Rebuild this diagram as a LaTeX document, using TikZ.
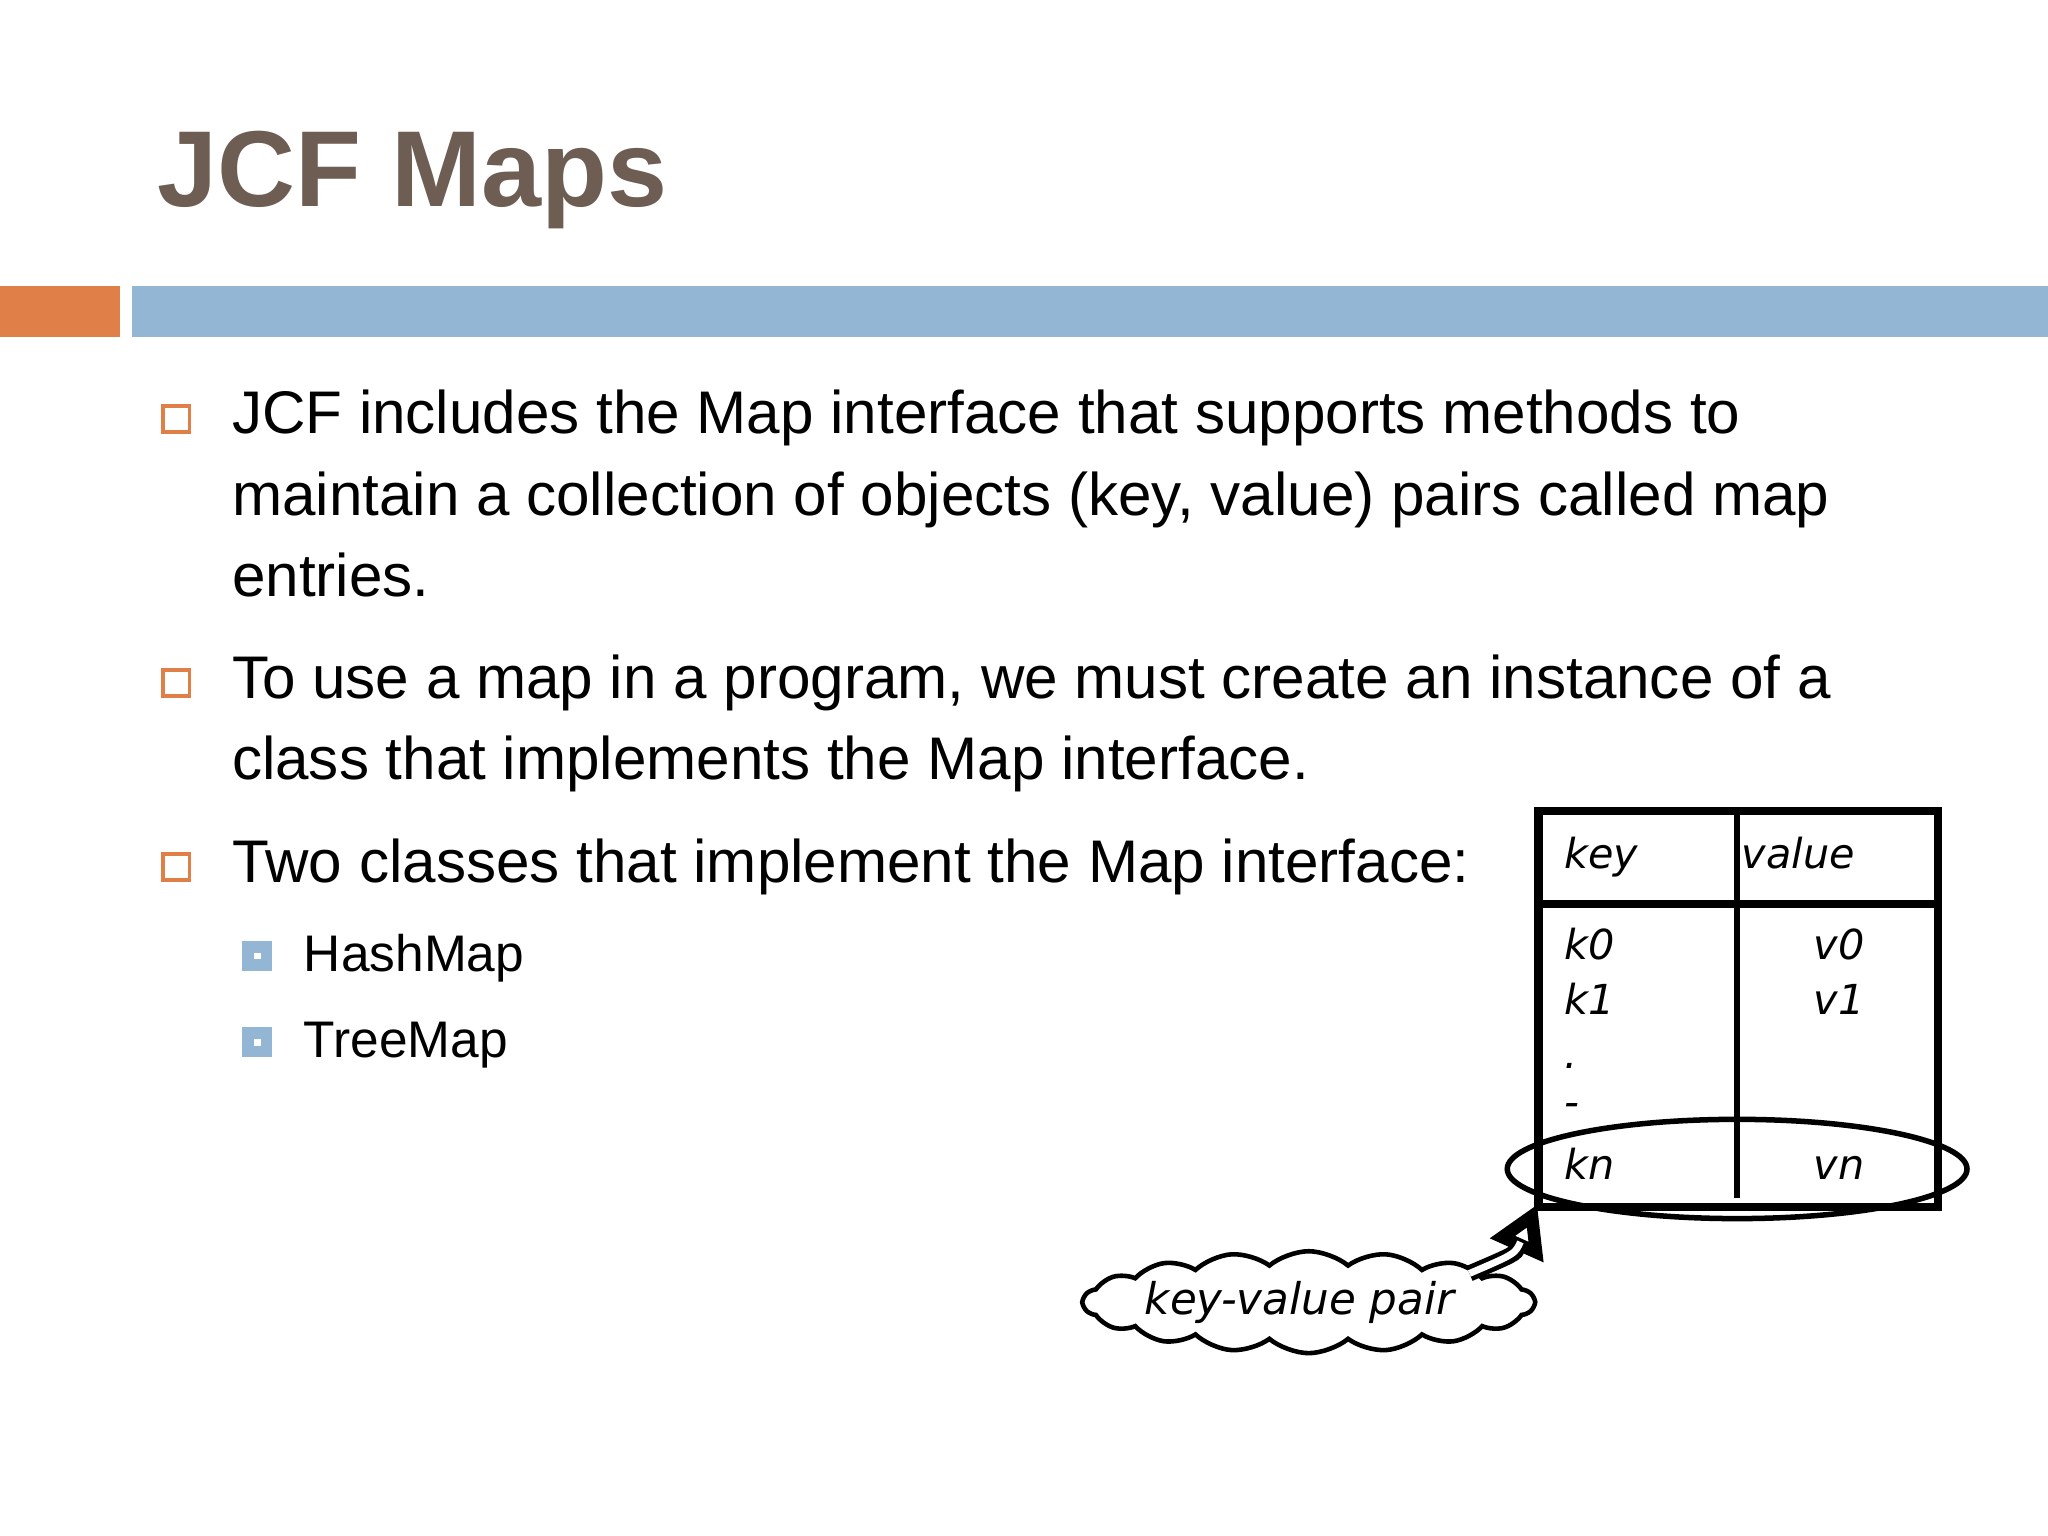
\documentclass[tikz,border=0pt]{standalone}
\usepackage{fontspec}
\setmainfont{Liberation Sans}
\newfontfamily\hand{DejaVu Sans}
\usetikzlibrary{shapes.symbols,arrows.meta}
\definecolor{titlec}{HTML}{6E5D52}
\definecolor{orangec}{HTML}{E07F48}
\definecolor{bluec}{HTML}{93B6D4}
\tikzset{
 body/.style={anchor=base west,inner sep=0,font=\fontsize{13.1}{16}\selectfont,text=black},
 obul/.style={draw=orangec,line width=0.8pt,minimum size=0.2cm,inner sep=0},
 bbul/.style={draw=bluec,line width=2.5pt,minimum size=0.14cm,inner sep=0},
 hw/.style={anchor=base west,inner sep=0,font=\hand\itshape\fontsize{9}{11}\selectfont}
}
\begin{document}
\begin{tikzpicture}[x=0.01cm,y=-0.01cm]
\useasboundingbox (0,0) rectangle (1568,1176);
\node[anchor=base west,inner sep=0,text=titlec,font=\bfseries\fontsize{23.5}{28}\selectfont] (title) at (120,158) {JCF Maps};
\fill[orangec] (0,219) rectangle (92,258);
\fill[bluec] (101,219) rectangle (1568,258);
\node[obul] (b1) at (135,321) {};
\node[body] (t1) at (177,332) {JCF includes the Map interface that supports methods to};
\node[body] (t2) at (177,395) {maintain a collection of objects (key, value) pairs called map};
\node[body] (t3) at (177,457) {entries.};
\node[obul] (b2) at (135,523) {};
\node[body] (t4) at (177,535) {To use a map in a program, we must create an instance of a};
\node[body] (t5) at (177,597) {class that implements the Map interface.};
\node[obul] (b3) at (135,664) {};
\node[body] (t6) at (177,676) {Two classes that implement the Map interface:};
\node[bbul] (s1) at (197,732) {};
\node[body,font=\fontsize{11.2}{14}\selectfont] (t7) at (232,744) {HashMap};
\node[bbul] (s2) at (197,798) {};
\node[body,font=\fontsize{11.2}{14}\selectfont] (t8) at (232,810) {TreeMap};
% table
\draw[line width=1.8pt] (1178,621) rectangle (1484,924);
\draw[line width=1.8pt] (1178,692) -- (1484,692);
\draw[line width=1.2pt] (1330,621) -- (1330,917);
\node[hw] (hk) at (1197,665) {key};
\node[hw] (hv) at (1333,665) {value};
\node[hw] (k0) at (1197,735) {k0};
\node[hw] (v0) at (1388,735) {v0};
\node[hw] (k1) at (1197,777) {k1};
\node[hw] (v1) at (1388,777) {v1};
\node[hw] (d1) at (1197,818) {.};
\node[hw] (d2) at (1197,855) {-};
\node[hw] (kn) at (1197,903) {kn};
\node[hw] (vn) at (1388,903) {vn};
\draw[line width=1.2pt] (1330,895) ellipse [x radius=176,y radius=38];
\node[cloud,draw,line width=1pt,cloud puffs=18,cloud puff arc=80,aspect=4.5,minimum width=3.45cm,minimum height=0.78cm,inner sep=0] (cl) at (1002,997) {};
\node[hw,anchor=center,font=\hand\itshape\fontsize{9.5}{12}\selectfont] (cll) at (995,997) {key-value pair};
\coordinate (tip) at (1177,922);
\draw[line width=3.5pt,-{Triangle[open,length=11pt,width=12pt]}] (1125,975) .. controls (1160,960) .. (tip);
\draw[white,line width=1.5pt,shorten >=9pt] (1125,975) .. controls (1160,960) .. (tip);
\end{tikzpicture}
\end{document}
